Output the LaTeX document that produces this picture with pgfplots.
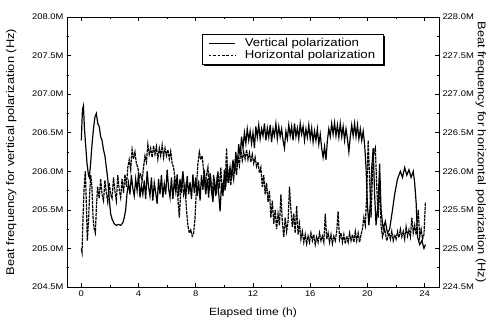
\documentclass[border=0pt]{standalone}
\usepackage{fontspec}
\setmainfont{Liberation Sans}[FakeStretch=1.15]
\usepackage{pgfplots}
\pgfplotsset{compat=1.18}
\begin{document}
\begin{tikzpicture}
\useasboundingbox (-67bp,-39bp) rectangle (423bp,287bp);
\pgfplotsset{
  common/.style={
    width=372bp, height=270bp, scale only axis,
    xmin=-1, xmax=25,
    tick align=inside,
    axis line style={line width=0.8pt},
    every tick/.style={line width=0.6pt, black},
    major tick length=4pt, minor tick length=2.2pt,
    tick label style={font=\fontsize{8.2}{10}\selectfont},
    /pgf/number format/assume math mode=true,
    yticklabel={\pgfmathprintnumber[fixed,fixed zerofill,precision=1]{\tick}M},
  },
}
\begin{axis}[common,
  ymin=204.5, ymax=208,
  ytick={204.5,205,...,208}, minor y tick num=1,
  xtick={0,4,...,24}, minor x tick num=1,
  xtick pos=both, ytick pos=left,
  xlabel={Elapsed time (h)},
  xlabel style={font=\fontsize{10.5}{12}\selectfont, at={(axis description cs:0.5,-0.096)}, anchor=center},
  ylabel={Beat frequency for vertical polarization (Hz)},
  ylabel style={font=\fontsize{11.2}{12}\selectfont, at={(axis description cs:-0.150,0.5)}, anchor=center},
]
\addplot[black, line width=1.2pt] coordinates {
(0.00,206.40) (0.08,206.80) (0.15,206.85) (0.22,206.55) (0.30,206.35) (0.40,206.10) (0.50,205.95) (0.56,205.92)
(0.65,206.10) (0.75,206.35) (0.85,206.55) (0.95,206.70) (1.05,206.75) (1.15,206.62) (1.25,206.58) (1.35,206.45)
(1.45,206.40) (1.55,206.28) (1.65,206.20) (1.75,206.05) (1.85,205.90) (1.95,205.65) (2.05,205.45) (2.15,205.38)
(2.30,205.32) (2.45,205.30) (2.60,205.31) (2.75,205.30) (2.90,205.33) (3.00,205.40) (3.10,205.50) (3.20,205.72)
(3.30,205.85) (3.40,205.70) (3.50,205.95) (3.60,205.78) (3.70,205.68) (3.80,205.90) (3.90,205.75) (4.00,205.98)
(4.10,205.66) (4.20,205.82) (4.30,205.70) (4.40,205.88) (4.50,205.64) (4.60,206.00) (4.70,205.80) (4.80,205.68)
(4.90,205.92) (5.00,205.62) (5.10,205.85) (5.20,205.72) (5.30,205.58) (5.40,205.90) (5.50,205.70) (5.60,205.95)
(5.70,205.66) (5.80,205.84) (5.90,205.70) (6.00,206.02) (6.10,205.78) (6.20,205.66) (6.30,205.92) (6.40,205.64)
(6.50,205.88) (6.60,205.74) (6.70,205.96) (6.80,205.68) (6.90,205.90) (7.00,205.72) (7.10,206.00) (7.20,205.80)
(7.30,205.66) (7.40,205.94) (7.50,205.70) (7.60,205.86) (7.70,205.64) (7.80,205.96) (7.90,205.72) (8.00,205.92)
(8.10,205.68) (8.20,205.88) (8.30,205.62) (8.40,205.95) (8.50,205.76) (8.60,206.02) (8.70,205.70) (8.80,205.90)
(8.90,205.66) (9.00,205.98) (9.10,205.74) (9.20,205.60) (9.30,205.90) (9.40,205.68) (9.50,205.95) (9.60,205.72)
(9.70,205.48) (9.80,205.85) (9.90,205.68) (10.00,206.02) (10.10,205.80) (10.20,206.10) (10.30,205.85) (10.40,206.05)
(10.50,205.90) (10.60,206.15) (10.70,205.98) (10.80,206.25) (10.90,206.05) (11.00,206.35) (11.10,206.20) (11.20,206.45)
(11.30,206.30) (11.40,206.50) (11.50,206.36) (11.60,206.55) (11.70,206.40) (11.80,206.52) (11.90,206.36) (12.00,206.50)
(12.10,206.30) (12.20,206.58) (12.30,206.44) (12.40,206.60) (12.50,206.42) (12.60,206.55) (12.70,206.46) (12.80,206.62)
(12.90,206.40) (13.00,206.56) (13.10,206.44) (13.20,206.60) (13.30,206.38) (13.40,206.55) (13.50,206.46) (13.60,206.62)
(13.70,206.42) (13.80,206.58) (13.90,206.45) (14.00,206.55) (14.10,206.40) (14.20,206.30) (14.30,206.52) (14.40,206.42)
(14.50,206.60) (14.60,206.46) (14.70,206.58) (14.80,206.40) (14.90,206.62) (15.00,206.45) (15.10,206.56) (15.20,206.42)
(15.30,206.62) (15.40,206.48) (15.50,206.58) (15.60,206.40) (15.70,206.55) (15.80,206.44) (15.90,206.60) (16.00,206.42)
(16.10,206.56) (16.20,206.38) (16.30,206.52) (16.40,206.40) (16.50,206.55) (16.60,206.35) (16.70,206.48) (16.80,206.30)
(16.90,206.18) (17.00,206.32) (17.10,206.15) (17.20,206.40) (17.30,206.55) (17.40,206.45) (17.50,206.62) (17.60,206.48)
(17.70,206.63) (17.80,206.46) (17.90,206.60) (18.00,206.44) (18.10,206.62) (18.20,206.45) (18.30,206.58) (18.40,206.40)
(18.50,206.55) (18.60,206.42) (18.70,206.25) (18.80,206.45) (18.90,206.60) (19.00,206.46) (19.10,206.62) (19.20,206.45)
(19.30,206.60) (19.40,206.42) (19.50,206.55) (19.60,206.40) (19.70,206.52) (19.80,206.35) (19.90,206.05)
(20.00,205.55) (20.10,205.30) (20.20,205.60) (20.30,206.05) (20.40,206.30) (20.50,205.70) (20.60,205.30) (20.75,205.60)
(20.85,206.10) (20.95,205.50) (21.10,205.25) (21.25,205.35) (21.40,205.20) (21.55,205.25) (21.75,205.50) (21.90,205.70)
(22.10,205.90) (22.30,206.00) (22.45,205.92) (22.60,206.05) (22.75,205.95) (22.90,206.02) (23.05,205.92) (23.20,206.00)
(23.30,205.85) (23.40,205.60) (23.50,205.15) (23.65,205.05) (23.80,205.10) (23.95,205.00) (24.05,205.05)
};
\end{axis}
\begin{axis}[common,
  ymin=224.5, ymax=228,
  ytick={224.5,225,...,228}, minor y tick num=1,
  axis y line*=right, axis x line=none,
  ylabel={Beat frequency for horizontal polarization (Hz)},
  ylabel style={font=\fontsize{11.2}{12}\selectfont, at={(axis description cs:1.112,0.5)}, anchor=center, rotate=180},
  legend cell align=left,
  legend style={at={(rel axis cs:0.363,0.937)}, anchor=north west, name=leg,
    draw=black, line width=0.6pt, fill=white,
    font=\fontsize{11.5}{12}\selectfont,
    row sep=-1.5pt, inner xsep=6pt, inner ysep=2pt},
  legend image code/.code={\draw[#1] (0cm,0cm) -- (0.95cm,0cm); \path (1.2cm,0cm);},
]
\addlegendimage{black, line width=0.5pt}
\addlegendentry{Vertical polarization}
\addlegendimage{black, line width=0.5pt, dash pattern=on 2.5pt off 2pt}
\addlegendentry{Horizontal polarization\hspace{12pt}}
\addplot[black, line width=1.2pt, dash pattern=on 3pt off 0.8pt, forget plot] coordinates {
(0.00,225.00) (0.05,224.95) (0.12,225.40) (0.20,225.80) (0.28,226.00) (0.35,225.60) (0.42,225.10) (0.50,225.35)
(0.58,225.70) (0.66,225.95) (0.74,225.80) (0.82,225.40) (0.90,225.25) (0.98,225.20) (1.06,225.55) (1.14,225.80)
(1.25,225.65) (1.35,225.90) (1.45,225.70) (1.55,225.62) (1.65,225.88) (1.75,225.72) (1.85,225.60) (1.95,225.85)
(2.05,225.70) (2.15,225.65) (2.25,225.92) (2.35,225.74) (2.45,225.62) (2.55,225.95) (2.65,225.76) (2.75,225.66)
(2.85,225.90) (2.95,225.72) (3.05,225.96) (3.15,225.80) (3.25,226.05) (3.35,226.15) (3.45,226.02) (3.55,226.28)
(3.65,226.16) (3.75,226.25) (3.85,226.10) (3.95,226.05) (4.05,225.92) (4.15,225.96) (4.25,225.88) (4.35,226.05)
(4.45,226.20) (4.55,226.12) (4.65,226.35) (4.75,226.22) (4.85,226.30) (4.95,226.18) (5.05,226.33) (5.15,226.22)
(5.25,226.32) (5.35,226.16) (5.45,226.30) (5.55,226.20) (5.65,226.34) (5.75,226.18) (5.85,226.30) (5.95,226.20)
(6.05,226.28) (6.15,226.16) (6.25,226.26) (6.35,226.10) (6.45,226.05) (6.55,225.90) (6.65,225.80) (6.75,225.65)
(6.85,225.40) (6.95,225.75) (7.05,225.90) (7.15,225.70) (7.25,225.80) (7.35,225.50) (7.45,225.30) (7.55,225.20)
(7.65,225.24) (7.75,225.16) (7.85,225.20) (7.95,225.40) (8.05,225.80) (8.15,226.10) (8.25,226.25) (8.35,226.15)
(8.45,226.20) (8.55,226.00) (8.65,225.80) (8.75,225.95) (8.85,226.05) (8.95,225.75) (9.05,225.90) (9.15,225.70)
(9.25,225.95) (9.35,225.80) (9.45,225.70) (9.55,226.00) (9.65,225.78) (9.75,226.05) (9.85,225.72) (9.95,225.88)
(10.05,225.75) (10.15,226.30) (10.25,225.85) (10.35,226.00) (10.45,225.82) (10.55,226.05) (10.65,225.90) (10.75,226.10)
(10.85,225.95) (10.95,226.20) (11.05,226.08) (11.15,226.28) (11.25,226.14) (11.35,226.25) (11.45,226.16) (11.55,226.28)
(11.65,226.15) (11.75,226.24) (11.85,226.12) (11.95,226.22) (12.05,226.10) (12.15,226.18) (12.25,226.06) (12.35,226.12)
(12.45,225.98) (12.55,226.05) (12.65,225.80) (12.75,225.95) (12.85,225.70) (12.95,225.85) (13.05,225.60) (13.15,225.75)
(13.25,225.40) (13.35,225.62) (13.45,225.32) (13.55,225.50) (13.65,225.25) (13.75,225.45) (13.85,225.30) (13.95,225.70)
(14.05,225.35) (14.15,225.15) (14.25,225.40) (14.35,225.22) (14.45,225.35) (14.55,225.80) (14.65,225.50) (14.75,225.28)
(14.85,225.45) (14.95,225.20) (15.05,225.55) (15.15,225.18) (15.25,225.32) (15.35,225.12) (15.45,225.22) (15.55,225.08)
(15.65,225.18) (15.75,225.06) (15.85,225.16) (15.95,225.08) (16.05,225.20) (16.15,225.10) (16.25,225.18) (16.35,225.05)
(16.45,225.15) (16.55,225.08) (16.65,225.20) (16.75,225.10) (16.85,225.16) (16.95,225.08) (17.05,225.45) (17.15,225.12)
(17.25,225.20) (17.35,225.08) (17.45,225.18) (17.55,225.06) (17.65,225.16) (17.75,225.10) (17.85,225.22) (17.95,225.48)
(18.05,225.12) (18.15,225.20) (18.25,225.08) (18.35,225.18) (18.45,225.06) (18.55,225.16) (18.65,225.08) (18.75,225.20)
(18.85,225.10) (18.95,225.18) (19.05,225.08) (19.15,225.22) (19.25,225.10) (19.35,225.20) (19.45,225.08) (19.55,225.18)
(19.65,225.25) (19.75,225.40) (19.85,225.30) (19.95,225.70) (20.05,226.40) (20.15,225.90) (20.25,225.40) (20.40,226.20)
(20.55,226.30) (20.65,225.80) (20.75,225.40) (20.85,225.90) (20.95,225.30) (21.05,225.15) (21.20,225.25) (21.35,225.10)
(21.50,225.20) (21.60,225.12) (21.70,225.22) (21.80,225.10) (21.90,225.18) (22.00,225.12) (22.10,225.22) (22.20,225.14)
(22.30,225.25) (22.40,225.15) (22.50,225.22) (22.60,225.12) (22.70,225.28) (22.80,225.16) (22.90,225.24) (23.00,225.15)
(23.10,225.40) (23.20,225.20) (23.30,225.30) (23.40,225.18) (23.55,225.50) (23.65,225.15) (23.75,225.25) (23.85,225.12)
(23.95,225.18) (24.05,225.60)
};
\end{axis}
\draw[line width=1.3pt] ([xshift=1pt,yshift=-2pt]leg.north east) -- ([xshift=1pt,yshift=-1pt]leg.south east) -- ([xshift=2pt,yshift=-1pt]leg.south west);
\end{tikzpicture}
\end{document}
